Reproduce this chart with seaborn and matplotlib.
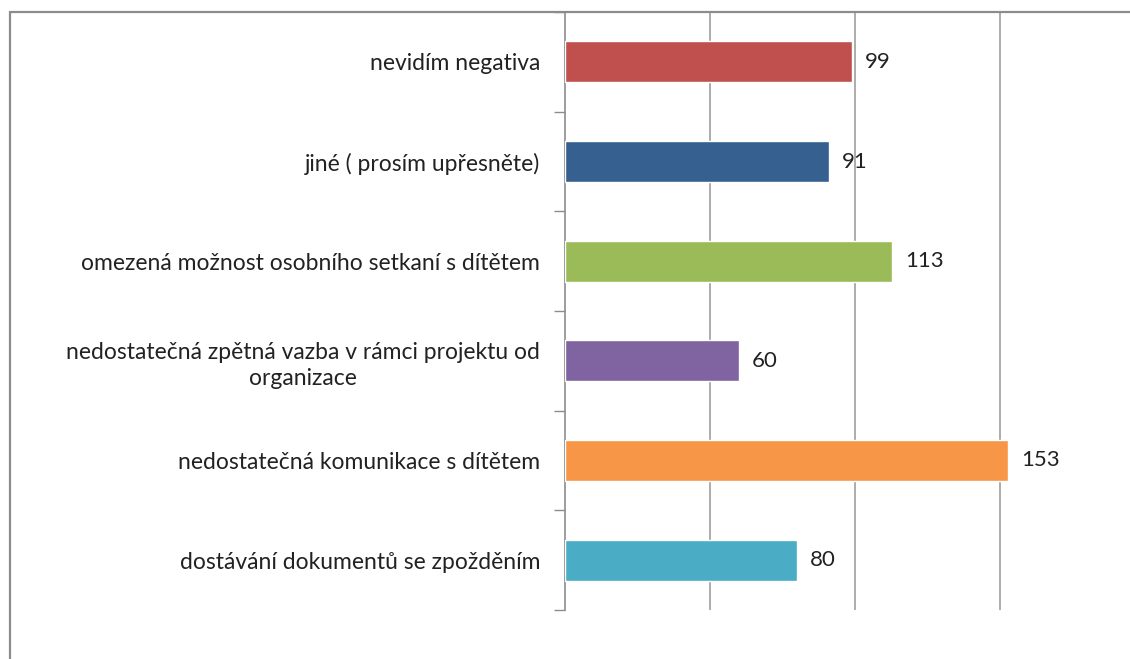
import matplotlib
matplotlib.use("Agg")
import matplotlib.pyplot as plt
import seaborn as sns
import pandas as pd
from matplotlib.lines import Line2D

categories = [
    "nevidím negativa",
    "jiné ( prosím upřesněte)",
    "omezená možnost osobního setkaní s dítětem",
    "nedostatečná zpětná vazba v rámci projektu od\norganizace",
    "nedostatečná komunikace s dítětem",
    "dostávání dokumentů se zpožděním",
]
values = [99, 91, 113, 60, 153, 80]
colors = ["#C0504D", "#35608F", "#9BBB59", "#8064A2", "#F79646", "#4BACC6"]

sns.set_theme(style="white")
plt.rcParams["font.family"] = ["Lato", "DejaVu Sans"]

df = pd.DataFrame({"cat": categories, "val": values})

fig = plt.figure(figsize=(11.3, 6.59), dpi=100)
ax = fig.add_axes([565 / 1130, 1 - 610 / 659, 1 - 565 / 1130, (610 - 12) / 659])

sns.barplot(data=df, y="cat", x="val", hue="cat", palette=colors, legend=False,
            orient="h", width=0.41, ax=ax, saturation=1, zorder=3)

ax.set_xlim(0, 195)
ax.set_ylim(len(categories) - 0.5, -0.5)
ax.set_xticks([50, 100, 150])
ax.set_xticklabels([])
ax.tick_params(axis="x", length=0)
ax.grid(axis="x", color="#A6A6A6", linewidth=1.3, zorder=0)
ax.set_xlabel("")
ax.set_ylabel("")

# y ticks at category boundaries, labels at centres
ax.set_yticks([i - 0.5 for i in range(len(categories) + 1)], minor=False)
ax.set_yticklabels([])
ax.tick_params(axis="y", which="major", length=8, width=1, color="#8C8C8C", direction="out", left=True)
ax.set_yticks(range(len(categories)), minor=True)
ax.set_yticklabels(categories, minor=True, fontsize=16.5, color="#222222", ha="right",
                   multialignment="center", linespacing=1.3)
ax.tick_params(axis="y", which="minor", length=0, pad=18)

for s in ["top", "right", "bottom"]:
    ax.spines[s].set_visible(False)
ax.spines["left"].set_color("#8C8C8C")
ax.spines["left"].set_linewidth(1.2)

for i, v in enumerate(values):
    ax.text(v + 4.5, i, str(v), va="center", ha="left", fontsize=16, color="#222222")

# outer frame (top and left edge)
fig.add_artist(Line2D([10 / 1130, 1], [1 - 12 / 659, 1 - 12 / 659], transform=fig.transFigure,
                      color="#8C8C8C", linewidth=1.6))
fig.add_artist(Line2D([10 / 1130, 10 / 1130], [0, 1 - 12 / 659], transform=fig.transFigure,
                      color="#8C8C8C", linewidth=1.6))

fig.savefig("out.png", dpi=100)
